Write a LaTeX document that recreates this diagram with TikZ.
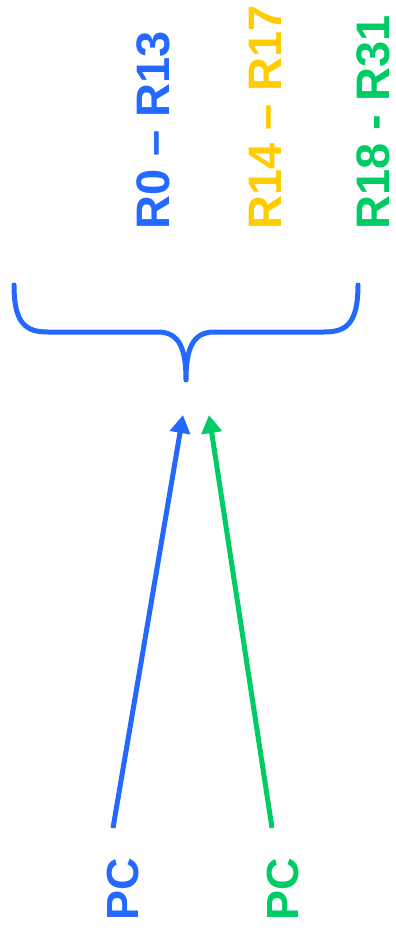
\documentclass[tikz,border=0pt]{standalone}
\usepackage{fontspec}
\setmainfont{Liberation Sans}
\usetikzlibrary{arrows.meta}
\definecolor{regblue}{RGB}{36,105,255}
\definecolor{regyellow}{RGB}{255,204,0}
\definecolor{reggreen}{RGB}{0,204,102}
\tikzset{
  regrange/.style={rotate=90, anchor=west, inner sep=0pt, font=\fontsize{47}{47}\selectfont\bfseries},
  pclabel/.style={rotate=90, inner sep=0pt, font=\fontsize{45}{45}\selectfont\bfseries},
  link/.style={line width=5pt, -{Triangle[length=18pt,width=20pt]}},
}

\begin{document}
\begin{tikzpicture}[x=1pt, y=1pt]
    \useasboundingbox (0,0) rectangle (396,-937);
    \node[regrange, regblue] (low) at (153,-230) {R0 -- R13};
    \node[regrange, regyellow] (mid) at (265,-230) {R14 -- R17};
    \node[regrange, reggreen] (high) at (373,-230) {R18 - R31};
    % brace
    \coordinate (tip) at (186,-380);
    \draw[regblue, line width=5pt, line cap=round]
      (14,-285) .. controls (14,-324) and (26,-332) .. (48,-332)
      -- (158,-332) .. controls (180,-332) and (186,-350) .. (tip)
      (358,-285) .. controls (358,-324) and (346,-332) .. (324,-332)
      -- (214,-332) .. controls (192,-332) and (186,-350) .. (tip);
    \node[pclabel, regblue] (pc1) at (123,-889) {PC};
    \node[pclabel, reggreen] (pc2) at (283,-889) {PC};
    \coordinate (s1) at (113,-828);
    \coordinate (e1) at (183,-415);
    \coordinate (s2) at (272,-828);
    \coordinate (e2) at (209,-415);
    \draw[link, regblue] (s1) -- (e1);
    \draw[link, reggreen] (s2) -- (e2);
  \end{tikzpicture}
\end{document}
